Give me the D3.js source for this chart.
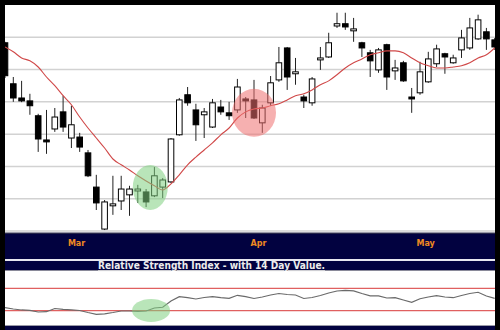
<!DOCTYPE html>
<html><head><meta charset="utf-8">
<script src="https://cdn.jsdelivr.net/npm/d3@7/dist/d3.min.js"></script>
<style>html,body{margin:0;padding:0;background:#000;overflow:hidden}</style>
</head><body><svg id="c" width="500" height="330"></svg>
<script>
// ---- data ----
const dates = ["2001-02-16","2001-02-20","2001-02-21","2001-02-22","2001-02-23","2001-02-26","2001-02-27","2001-02-28",
  "2001-03-01","2001-03-02","2001-03-05","2001-03-06","2001-03-07","2001-03-08","2001-03-09","2001-03-12","2001-03-13",
  "2001-03-14","2001-03-15","2001-03-16","2001-03-19","2001-03-20","2001-03-21","2001-03-22","2001-03-23","2001-03-26",
  "2001-03-27","2001-03-28","2001-03-29","2001-03-30","2001-04-02","2001-04-03","2001-04-04","2001-04-05","2001-04-06",
  "2001-04-09","2001-04-10","2001-04-11","2001-04-12","2001-04-16","2001-04-17","2001-04-18","2001-04-19","2001-04-20",
  "2001-04-23","2001-04-24","2001-04-25","2001-04-26","2001-04-27","2001-04-30","2001-05-01","2001-05-02","2001-05-03",
  "2001-05-04","2001-05-07","2001-05-08","2001-05-09","2001-05-10","2001-05-11","2001-05-14"];
const open  = [68.3,55.6,51.2,50.3,45.7,38.2,41.6,46.9,38.8,39.1, 34.2,23.6,10.6,17.8,19.3,21.2,22.4,22.1,20.9,23.6,
  25.2,39.8,52.2,47.5,46.0,42.2,48.4,46.6,47.5,50.9, 50.6,43.5,49.7,56.8,66.7,58.7,51.5,49.7,63.0,63.9,
  73.5,74.2,72.0,68.3,65.2,59.9,67.7,59.6,62.1,51.5, 52.8,56.2,61.8,64.9,62.1,66.1,66.7,69.5,71.7,69.2];
const high  = [68.6,57.7,56.5,52.5,46.3,47.5,48.1,51.9,48.8,40.4, 35.1,27.4,19.6,27.1,27.1,24.0,24.3,23.0,29.8,26.4,
  38.8,51.2,54.6,49.4,48.1,50.9,50.6,50.0,57.1,51.5, 56.8,49.1,58.0,67.0,67.0,63.6,52.2,57.7,67.0,71.4,
  77.6,77.6,76.0,68.6,66.1,66.7,68.0,63.0,62.7,54.3, 62.4,65.5,67.7,65.2,64.6,72.3,76.0,77.0,72.9,69.8];
const low   = [57.4,50.0,49.9,46.0,34.5,33.9,40.7,40.7,35.7,34.5, 26.7,16.5,10.3,15.0,16.5,14.7,18.7,17.4,20.5,20.2,
  24.9,39.5,48.8,37.9,38.8,41.9,46.0,44.4,46.6,45.0, 44.7,40.4,48.8,56.2,53.7,55.3,48.1,48.8,59.9,63.6,
  72.9,72.3,68.6,63.9,57.7,59.0,53.7,56.8,56.2,46.6, 52.2,55.9,60.8,58.7,61.8,63.6,66.1,69.2,66.1,66.1];
const close = [58.1,51.2,50.3,48.8,38.5,37.6,45.3,42.2,42.9,36.0, 27.1,18.7,19.0,18.4,23.0,23.0,23.0,19.0,27.1,25.8,
  38.5,50.6,49.7,42.9,46.9,49.7,46.9,45.7,54.6,50.3, 45.0,48.1,55.9,62.1,57.7,59.3,50.3,57.1,63.6,68.3,
  74.2,73.2,72.6,66.7,62.7,66.1,57.7,60.5,56.5,50.9, 59.3,63.3,66.4,63.9,63.6,69.8,72.9,75.4,69.5,67.0];
const sma   = [67.0,65.5,63.6,62.7,60.8,57.7,55.0,51.9,49.1,45.3, 41.9,38.8,35.7,32.3,30.5,28.9,27.1,25.5,24.0,22.7,
  24.6,27.4,30.5,32.9,35.1,37.3,39.8,41.9,45.0,46.9, 47.8,48.1,48.8,49.4,50.6,51.9,52.5,53.7,55.3,56.5,
  58.4,60.5,62.1,63.3,64.6,65.2,65.8,65.8,65.2,63.6, 62.1,61.2,60.5,60.5,60.8,61.2,62.1,63.6,64.6,66.7];
const rsi   = [35.4,33.0,31.3,30.7,27.7,28.2,33.9,32.5,31.6,30.4, 26.8,23.6,24.5,26.8,29.5,29.5,28.9,29.5,34.8,36.1,
  47.3,55.0,53.2,50.9,53.6,55.0,53.2,52.1,57.5,55.0, 51.8,54.5,58.0,60.7,58.9,58.0,51.8,53.6,57.1,61.6,
  65.2,66.4,65.5,60.7,56.6,56.3,52.7,53.2,49.1,45.0, 51.3,54.5,56.8,54.5,53.2,57.1,60.7,62.9,56.3,52.1];
const priceGrid = [10,20,30,40,50,60,70];
const rsiLevels = [30,70];
const monthLabels = ["Mar","Apr","May"];
const monthStarts = ["2001-03-01","2001-04-02","2001-05-01"];
const title = "Relative Strength Index - with 14 Day Value.";
// highlight marks: [date index position, value]
const mainHighlights = [{at: 17.5, value: 23.5, color: "#7fd07f"}, {at: 30, value: 46.6, color: "#ee7070"}];
const rsiHighlights = [{at: 17.6, value: 30.4, color: "#7fd07f"}];

// ---- layout ----
const svg = d3.select("#c");
const L = 5, R = 495;
const main = {top: 5, bottom: 232};
const rsiP = {top: 271, bottom: 325};
const navy = "#020240";

svg.append("rect").attr("width",500).attr("height",330).attr("fill","#000");
svg.append("rect").attr("x",L).attr("y",main.top).attr("width",R-L).attr("height",main.bottom-main.top).attr("fill","#fff");
svg.append("rect").attr("x",L).attr("y",232).attr("width",R-L).attr("height",1.5).attr("fill","#9a9aa8");
svg.append("rect").attr("x",L).attr("y",233.5).attr("width",R-L).attr("height",25.5).attr("fill",navy);
svg.append("rect").attr("x",L).attr("y",259).attr("width",R-L).attr("height",2).attr("fill","#e8e8f0");
svg.append("rect").attr("x",L).attr("y",261).attr("width",R-L).attr("height",9).attr("fill",navy);
svg.append("rect").attr("x",L).attr("y",270).attr("width",R-L).attr("height",1).attr("fill","#8a8a9a");
svg.append("rect").attr("x",L).attr("y",rsiP.top).attr("width",R-L).attr("height",rsiP.bottom-rsiP.top).attr("fill","#fff");
svg.append("rect").attr("x",L).attr("y",325).attr("width",R-L).attr("height",1).attr("fill","#9a9aa8");
svg.append("rect").attr("x",L).attr("y",326).attr("width",R-L).attr("height",4).attr("fill",navy);

const x = d3.scalePoint().domain(dates).range([5, 494.7]);
const xi = d3.scaleLinear().domain([0, dates.length-1]).range([5, 494.7]);
const y = d3.scaleLinear().domain([10, 80]).range([231, 5]);
const yr = d3.scaleLinear().domain([0, 100]).range([327.5, 271.5]);

const defs = svg.append("defs");
defs.append("clipPath").attr("id","cm").append("rect").attr("x",L).attr("y",main.top).attr("width",R-L).attr("height",main.bottom-main.top);
defs.append("clipPath").attr("id","cr").append("rect").attr("x",L).attr("y",rsiP.top).attr("width",R-L).attr("height",rsiP.bottom-rsiP.top);

// grid
const gm = svg.append("g").attr("clip-path","url(#cm)");
gm.selectAll("line.grid").data(priceGrid).join("line")
  .attr("x1",L).attr("x2",R).attr("y1",d=>y(d)).attr("y2",d=>y(d))
  .attr("stroke","#d2d2d2").attr("stroke-width",1.5);

// candles
const candles = dates.map((d,i)=>({d, o:open[i], h:high[i], l:low[i], c:close[i]}));
const cg = gm.selectAll("g.candle").data(candles).join("g");
cg.append("line").attr("x1",d=>x(d.d)).attr("x2",d=>x(d.d))
  .attr("y1",d=>y(d.h)).attr("y2",d=>y(d.l)).attr("stroke","#222").attr("stroke-width",1);
cg.append("rect").attr("x",d=>x(d.d)-2.8).attr("width",5.6)
  .attr("y",d=>y(Math.max(d.o,d.c)))
  .attr("height",d=>Math.max(1.2, Math.abs(y(d.o)-y(d.c))))
  .attr("fill",d=>d.c<d.o?"#000":"#fff").attr("stroke","#000").attr("stroke-width",1);

// moving average
gm.append("path").datum(sma)
  .attr("d", d3.line().x((v,i)=>x(dates[i])).y(v=>y(v)).curve(d3.curveMonotoneX))
  .attr("fill","none").attr("stroke","#d04848").attr("stroke-width",1.1);

// highlights
gm.selectAll("ellipse.hl").data(mainHighlights).join("ellipse")
  .attr("cx",d=>xi(d.at)).attr("cy",d=>y(d.value))
  .attr("rx",d=>d.color==="#7fd07f"?17.5:22).attr("ry",d=>d.color==="#7fd07f"?22.5:24)
  .attr("fill",d=>d.color).attr("opacity",0.55);

// month labels
svg.selectAll("text.month").data(monthLabels).join("text")
  .attr("x",(d,i)=>x(monthStarts[i])-3.5).attr("y",246)
  .attr("fill","#f08a22").attr("font-family","DejaVu Sans, sans-serif").attr("font-weight","bold")
  .attr("font-size",8).text(d=>d);

// title
svg.append("text").attr("x",98).attr("y",269.3)
  .attr("fill","#ececec").attr("font-family","DejaVu Sans, sans-serif").attr("font-weight","bold")
  .attr("font-size",9.6).attr("text-decoration","underline")
  .attr("textLength",227).attr("lengthAdjust","spacingAndGlyphs").text(title);

// RSI
const gr = svg.append("g").attr("clip-path","url(#cr)");
gr.selectAll("line.lv").data(rsiLevels).join("line")
  .attr("x1",L).attr("x2",R).attr("y1",d=>yr(d)).attr("y2",d=>yr(d))
  .attr("stroke","#e06060").attr("stroke-width",1.2);
gr.append("path").datum(rsi)
  .attr("d", d3.line().x((v,i)=>x(dates[i])).y(v=>yr(v)))
  .attr("fill","none").attr("stroke","#6a6a6a").attr("stroke-width",1.2);
gr.selectAll("ellipse.hl").data(rsiHighlights).join("ellipse")
  .attr("cx",d=>xi(d.at)).attr("cy",d=>yr(d.value)).attr("rx",19).attr("ry",11.5)
  .attr("fill",d=>d.color).attr("opacity",0.55);
</script></body></html>
